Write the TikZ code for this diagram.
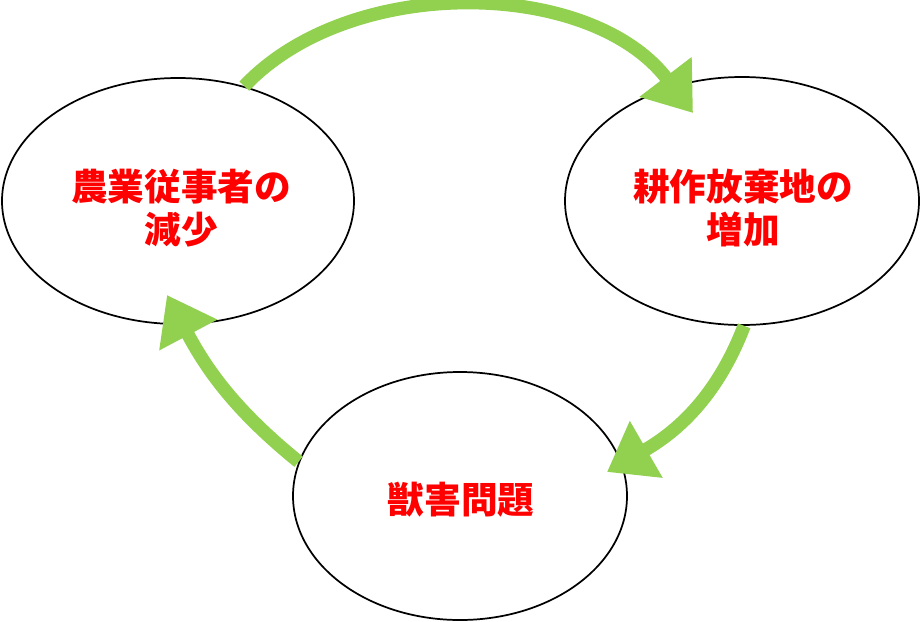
\documentclass[tikz,border=0pt]{standalone}
\usepackage{fontspec}
\newfontfamily\cjk{Noto Sans CJK JP}
\usetikzlibrary{arrows.meta,shapes.geometric}
\definecolor{arrowgreen}{HTML}{92D050}
\tikzset{
  bubble/.style={ellipse, draw=black, line width=1.3pt, fill=white, inner sep=0pt},
  lbl/.style={align=center, text=red, inner sep=0pt, font=\cjk\bfseries\fontsize{27.5}{32.5}\selectfont},
  cyc/.style={draw=arrowgreen, line width=10pt,
    -{Triangle[length=34pt, width=47pt, fill=arrowgreen]}},
}
\begin{document}
\begin{tikzpicture}[x=0.75pt, y=-0.75pt]
\useasboundingbox (0,0) rectangle (920,621);
\node[bubble, minimum width=264pt, minimum height=184.5pt] (L) at (178,201) {};
\node[bubble, minimum width=265.5pt, minimum height=186pt] (R) at (742,201) {};
\node[bubble, minimum width=250.5pt, minimum height=186pt] (B) at (460,496) {};
\node[lbl] (Lt) at (181,208) {農業従事者の\\減少};
\node[lbl] (Rt) at (743,208) {耕作放棄地の\\増加};
\node[lbl] (Bt) at (461,500) {獣害問題};
\coordinate (tR) at (693,113);
\coordinate (tB) at (607,472);
\coordinate (tL) at (167,295);
\draw[cyc] (L.60) .. controls (350,-26) and (590,-22) .. (tR);
\draw[cyc] (R.-89) to[out=249, in=30] (tB);
\draw[cyc] (B.168) to[out=141, in=-62] (tL);
\end{tikzpicture}
\end{document}
